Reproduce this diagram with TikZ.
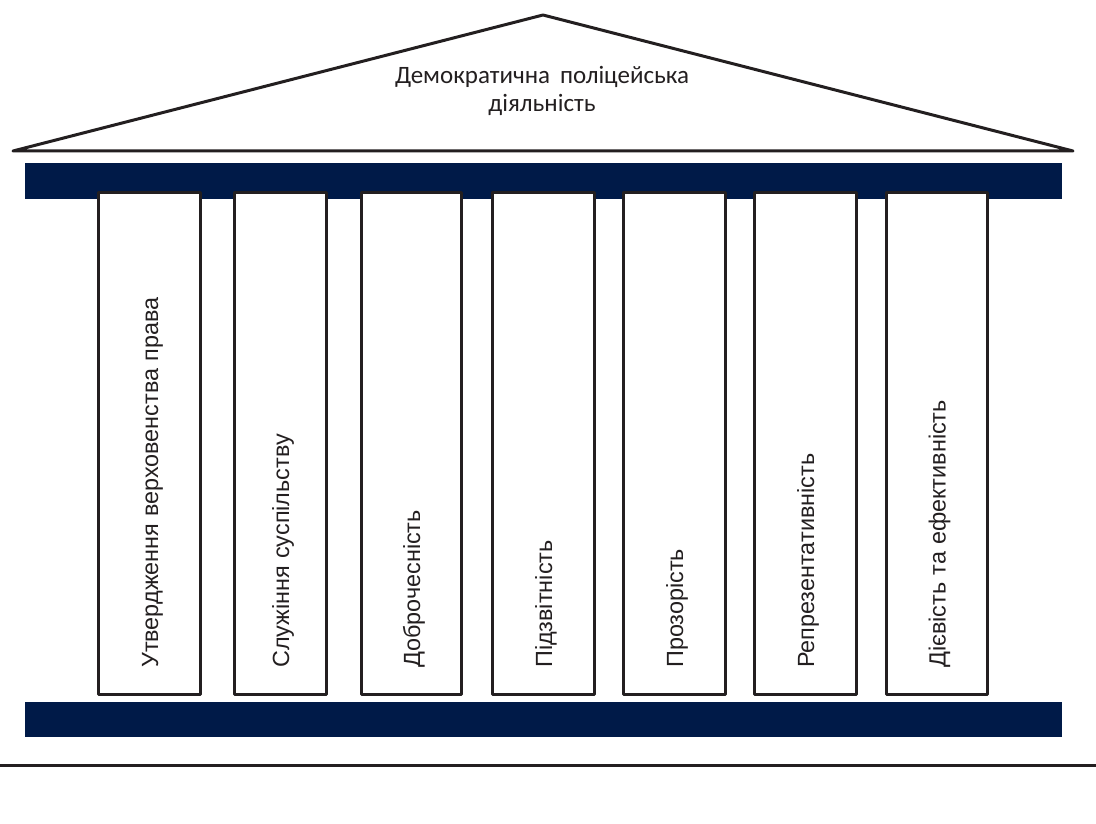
\documentclass[tikz,border=0pt]{standalone}
\usepackage{fontspec}
\setmainfont{Carlito}
\newfontfamily\colfont[WordSpace=1.1]{Liberation Sans}
\definecolor{navy}{RGB}{0,26,72}
\definecolor{ink}{RGB}{35,31,32}
\begin{document}
\begin{tikzpicture}[x=1pt,y=-1pt,
  line/.style={draw=ink,line width=3pt,line join=round},
  bar/.style={fill=navy,draw=none},
  pillar/.style={draw=ink,fill=white,line width=3pt,line join=round},
  pillartext/.style={rotate=90,anchor=base west,inner sep=0pt,font=\colfont\fontsize{23.4}{27}\selectfont,text=ink},
  titletext/.style={align=center,inner sep=0pt,font=\fontsize{25}{28}\selectfont,text=ink}]
\useasboundingbox (0,0) rectangle (1096,824);
% roof
\coordinate (rl) at (13,151);
\coordinate (ra) at (543,15);
\coordinate (rr) at (1073,151);
\draw[line] (rl) -- (ra) -- (rr) -- cycle;
\node[titletext,anchor=base] (title) at (542,112) {Демократична\, поліцейська\\діяльність};
% bars
\fill[bar] (25,163) rectangle (1062,199);
\fill[bar] (25,702) rectangle (1062,737);
% ground
\coordinate (gl) at (0,765);
\coordinate (gr) at (1096,765);
\draw[line] (gl) -- (gr);
% pillars
\foreach \l/\r/\t [count=\i] in {98/200/Утвердження верховенства права,
  234/326/Служіння суспільству,
  361/461/Доброчесність,
  492/594/Підзвітність,
  623/725/Прозорість,
  754/856/Репрезентативність,
  886/987/Дієвість та ефективність}{
  \draw[pillar] (\l,193) rectangle (\r,694);
  \node[pillartext] (p\i) at ({(\l+\r)/2+9},668) {\t};
}
\end{tikzpicture}
\end{document}
